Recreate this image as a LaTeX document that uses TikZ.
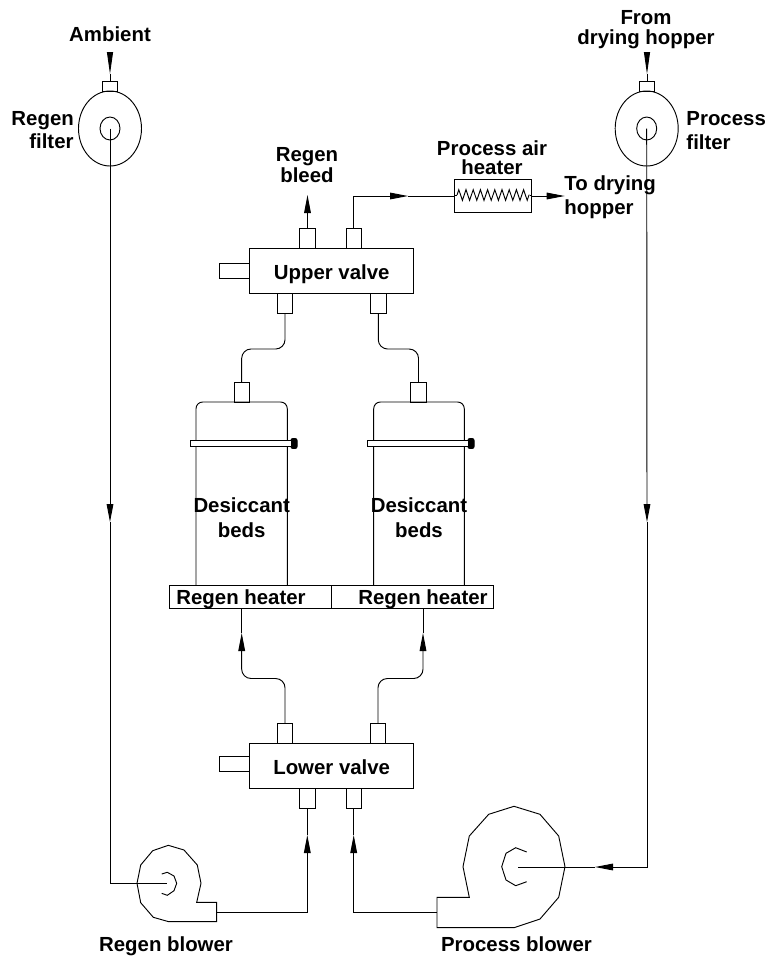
\documentclass[tikz,border=0pt]{standalone}
\usepackage{fontspec}
\setmainfont{Liberation Sans}
\usetikzlibrary{arrows.meta,shapes.geometric,decorations.pathmorphing}
\tikzset{
  label/.style = {font = \fontsize{15.3}{17.6}\selectfont\bfseries, inner sep = 0pt, anchor = base},
  port/.style = {draw, inner sep = 0pt, minimum width = 11.5pt, minimum height = 15pt},
  fport/.style = {port, minimum height = 7.5pt},
  valve/.style = {draw, inner sep = 0pt, minimum width = 123pt, minimum height = 33.5pt},
  knob/.style = {draw, inner sep = 0pt, minimum width = 22.5pt, minimum height = 11.25pt},
  filter/.style = {draw, ellipse, inner sep = 0pt, minimum width = 47.25pt, minimum height = 56.25pt},
  eye/.style = {draw, ellipse, inner sep = 0pt, minimum width = 15pt, minimum height = 17.25pt},
  band/.style = {draw, inner sep = 0pt, minimum width = 75.75pt, minimum height = 5pt},
  screw/.style = {draw, fill = black, rounded corners = 1.5pt, inner sep = 0pt, minimum width = 4.6pt, minimum height = 7.5pt},
  hbar/.style = {draw, inner sep = 0pt, minimum width = 121.5pt, minimum height = 17pt},
  flow/.style = {-{Triangle[length = 13.5pt, width = 5pt]}},
  inflow/.style = {-{Triangle[length = 16.5pt, width = 4.5pt]}}
}
\begin{document}
\begin{tikzpicture}[x = 0.75pt, y = -0.75pt, line width = 0.7pt]
\useasboundingbox (0, 0) rectangle (766, 958);

% filters
\node[filter] (rfilter) at (110, 128.5) {};
\node[eye] (reye) at (110, 128.5) {};
\node[fport] (rfport) at (110, 86) {};
\node[filter] (pfilter) at (646.7, 128.5) {};
\node[eye] (peye) at (646.7, 128.5) {};
\node[fport] (pfport) at (647, 86) {};

% valves
\node[valve] (uvalve) at (331.5, 271) {};
\node[knob] (uknob) at (234.5, 271) {};
\node[port] (uport1) at (307.5, 238.7) {};
\node[port] (uport2) at (353.7, 238.7) {};
\node[port] (uport3) at (285, 303.5) {};
\node[port] (uport4) at (378.3, 303.5) {};
\node[valve] (lvalve) at (331.5, 766) {};
\node[knob] (lknob) at (234.5, 764) {};
\node[port] (lport1) at (285, 733.8) {};
\node[port] (lport2) at (378, 733.8) {};
\node[port] (lport3) at (307.3, 798.3) {};
\node[port] (lport4) at (353.7, 798.3) {};

% beds
\node[port] (lbport) at (241.7, 392.7) {};
\node[port] (rbport) at (418.5, 392.7) {};
\draw[rounded corners = 5pt] (196, 585.7) -- (196, 402) -- (287.3, 402) -- (287.3, 585.7);
\draw[rounded corners = 5pt] (373.7, 585.7) -- (373.7, 402) -- (464.3, 402) -- (464.3, 585.7);
\node[screw] (lscrew) at (294, 443.5) {};
\node[screw] (rscrew) at (471, 443.5) {};
\node[band, fill = white] (lband) at (241.2, 443.5) {};
\node[band, fill = white] (rband) at (418, 443.5) {};
\node[hbar] (lheater) at (250.7, 597) {};
\node[hbar] (rheater) at (412.8, 597) {};

% process air heater
\node[draw, inner sep = 0pt, minimum width = 57.75pt, minimum height = 24.75pt] (pheater) at (493.2, 195.8) {};
\coordinate (zigstart) at (457, 195);
\coordinate (zigend) at (529.7, 195);
\draw (pheater.west |- zigstart) -- (zigstart);
\draw[decorate, decoration = {zigzag, segment length = 5.4pt, amplitude = 4pt}] (zigstart) -- (zigend);
\draw (zigend) -- (pheater.east |- zigend);

% blowers
\draw (216.7, 902.3) -- (196.7, 902.3) -- (201, 883.3) -- (197.3, 865) -- (184, 850) -- (168.3, 845.3)
  -- (152.7, 850.7) -- (140.7, 865) -- (137, 883.3) -- (140.7, 902.7) -- (153.3, 917.3) -- (168.7, 921.7)
  -- (216.7, 921.7) -- cycle;
\draw (161.7, 874) -- (167.3, 872.3) -- (174, 876) -- (176.7, 883.3) -- (174, 890.7) -- (167.3, 895.3) -- (161.7, 893.3);
\draw (437, 897.3) -- (469.3, 897.3) -- (463, 866.7) -- (469.3, 836) -- (488.7, 814.3) -- (514, 806.3)
  -- (540, 814.3) -- (558.7, 836) -- (565, 866.7) -- (558.7, 897.3) -- (540, 919) -- (514, 927.7)
  -- (437, 927.7) -- cycle;
\draw (526.7, 852) -- (515.7, 847.7) -- (506, 853.3) -- (501.7, 866.7) -- (506, 880) -- (515.7, 885.7) -- (526.7, 881.7);
\coordinate (rbin) at (166.7, 883.3);
\coordinate (rbout) at (216.7, 912);
\coordinate (pbin) at (517.7, 867);
\coordinate (pbout) at (437, 912);

% air lines, regen side
\coordinate (ambstart) at (110, 52);
\coordinate (ambtip) at (110, 74);
\draw[inflow] (ambstart) -- (ambtip);
\draw (ambtip) -- (rfport.north);
\coordinate (rmid) at (110, 522);
\draw[flow] (reye.center) -- (rmid);
\draw (rmid) -- (rbin -| rmid) -- (rbin);
\coordinate (rvtip) at (307.3, 835);
\draw[flow] (rbout) -- (rbout -| rvtip) -- (rvtip);
\draw (rvtip) -- (lport3.south);
\coordinate (bleedtip) at (307.5, 195);
\draw[flow] (uport1.north) -- (bleedtip);

% air lines, process side
\coordinate (hoptip) at (647, 74);
\coordinate (hopstart) at (647, 52);
\draw[inflow] (hopstart) -- (hoptip);
\draw (hoptip) -- (pfport.north);
\coordinate (pmid) at (647, 522);
\draw[flow] (peye.center) -- (pmid);
\coordinate (pbtip) at (595, 867);
\draw[flow] (pmid) -- (647, 867) -- (pbtip);
\draw (pbtip) -- (pbin);
\coordinate (pvtip) at (353.7, 835);
\draw[flow] (pbout) -- (pbout -| pvtip) -- (pvtip);
\draw (pvtip) -- (lport4.south);
\coordinate (hmid) at (408, 196);
\draw[flow] (uport2.north) -- (353.7, 196) -- (hmid);
\draw (hmid) -- (pheater.west |- hmid);
\coordinate (hout) at (564.7, 196);
\draw[flow] (pheater.east |- hout) -- (hout);

% lines to beds and heaters
\draw[rounded corners = 7pt] (uport3.south) -- (285, 349) -- (241.7, 349) -- (lbport.north);
\draw[rounded corners = 7pt] (uport4.south) -- (378.3, 349) -- (418.5, 349) -- (rbport.north);
\coordinate (ltip) at (241.7, 633);
\coordinate (rtip) at (423, 633);
\draw[flow, rounded corners = 7pt] (lport1.north) -- (285, 678.5) -- (241.7, 678.5) -- (ltip);
\draw (ltip) -- (241.7, 608.3);
\draw[flow, rounded corners = 7pt] (lport2.north) -- (378, 678.5) -- (423, 678.5) -- (rtip);
\draw (rtip) -- (423, 608.3);

% labels
\node[label] (ambient) at (110, 41.5) {Ambient};
\node[label, anchor = base east] (rfl1) at (74.3, 125) {Regen};
\node[label, anchor = base east] (rfl2) at (74, 148) {filter};
\node[label] (fromhop1) at (646, 24) {From};
\node[label] (fromhop2) at (646, 44.3) {drying hopper};
\node[label, anchor = base west] (pfl1) at (686, 125) {Process};
\node[label, anchor = base west] (pfl2) at (686, 149) {filter};
\node[label] (bleed1) at (307, 161.7) {Regen};
\node[label] (bleed2) at (307, 182.7) {bleed};
\node[label] (pah1) at (492, 155) {Process air};
\node[label] (pah2) at (492, 174) {heater};
\node[label, anchor = base west] (tohop1) at (564, 190.7) {To drying};
\node[label, anchor = base west] (tohop2) at (564, 214.5) {hopper};
\node[label] (uvl) at (331.7, 279) {Upper valve};
\node[label] (lvl) at (331.7, 774) {Lower valve};
\node[label] (bed1) at (241.7, 512.7) {Desiccant};
\node[label] (bed2) at (241.7, 537.7) {beds};
\node[label] (bed3) at (419, 512.7) {Desiccant};
\node[label] (bed4) at (419, 537.7) {beds};
\node[label] (lhl) at (241, 604) {Regen heater};
\node[label] (rhl) at (423, 604) {Regen heater};
\node[label] (rbl) at (166, 951.7) {Regen blower};
\node[label] (pbl) at (516.5, 951.7) {Process blower};
\end{tikzpicture}
\end{document}
